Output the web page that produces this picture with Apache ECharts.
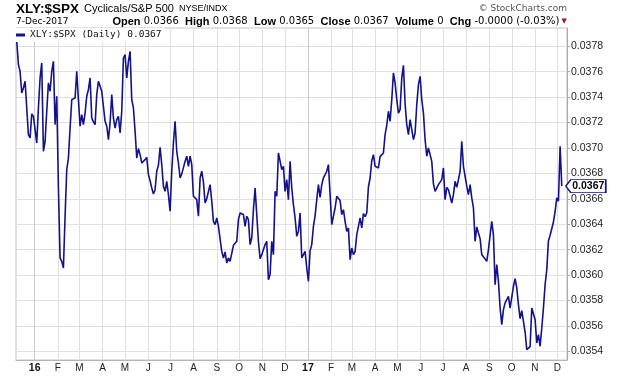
<!DOCTYPE html>
<html>
<head>
<meta charset="utf-8">
<title>XLY:$SPX</title>
<script src="https://cdn.jsdelivr.net/npm/echarts@6/dist/echarts.min.js"></script>
<style>
  html, body { margin: 0; padding: 0; background: #fff; }
  #chart { width: 620px; height: 376px; }
</style>
</head>
<body>
<div id="chart"></div>
<script>
// XLY:$SPX (Cyclicals / S&P 500), daily.
// Samples are evenly spaced between firstDate and lastDate.
const firstDate = '2015-12-08';
const lastDate = '2017-12-07';
const axisStart = '2015-12-07';
const axisEnd = '2017-12-14';

const monthLetters = ['J', 'F', 'M', 'A', 'M', 'J', 'J', 'A', 'S', 'O', 'N', 'D'];

// Dec 2015 - mid Apr 2016
const part1 = [
    0.037839, 0.037656, 0.037603, 0.037433, 0.037472, 0.037525, 0.037512, 0.037105, 0.037079, 0.037268,
    0.037249, 0.037144, 0.037039, 0.037315, 0.037551, 0.037669, 0.036974, 0.037053, 0.037289, 0.037512,
    0.037446, 0.037603, 0.037682, 0.037184, 0.037407, 0.036685, 0.036135, 0.036108, 0.036056, 0.036463,
    0.036830, 0.036921, 0.037157, 0.037380, 0.037380, 0.037394, 0.037603, 0.037380, 0.037171, 0.037262,
    0.037184, 0.037275, 0.037407, 0.037459, 0.037551, 0.037236, 0.037205, 0.037184, 0.037420, 0.037525,
    0.037525, 0.037446, 0.037328, 0.037210, 0.037171, 0.037066, 0.037197, 0.037420, 0.037236, 0.037157,
    0.037223, 0.037249, 0.037118, 0.037289, 0.037708, 0.037734
];
// mid Apr 2016 - Aug 2016
const part2 = [
    0.037551, 0.037682, 0.037761, 0.037380, 0.037315, 0.037131, 0.036921, 0.036995, 0.036948, 0.036882,
    0.036895, 0.036908, 0.036927, 0.036790, 0.036743, 0.036685, 0.036638, 0.036672, 0.036817, 0.036864,
    0.037005, 0.036869, 0.036698, 0.036659, 0.036738, 0.036633, 0.036502, 0.036817, 0.037039, 0.037210,
    0.036974, 0.036882, 0.036764, 0.036796, 0.036811, 0.036895, 0.036935, 0.036856, 0.036935, 0.036869,
    0.036620, 0.036612, 0.036594, 0.036463, 0.036764, 0.036817, 0.036733, 0.036567, 0.036601, 0.036607,
    0.036712, 0.036581, 0.036423, 0.036397, 0.036449, 0.036384, 0.036371, 0.036187, 0.036135, 0.036182,
    0.036095, 0.036135
];
// Sep 2016 - Jan 2017
const part3 = [
    0.036108, 0.036095, 0.036234, 0.036240, 0.036266, 0.036436, 0.036489, 0.036497, 0.036476, 0.036384,
    0.036463, 0.036436, 0.036240, 0.036292, 0.036515, 0.036685, 0.036476, 0.036266, 0.036129, 0.036161,
    0.036174, 0.036240, 0.036266, 0.035964, 0.036004, 0.036266, 0.036161, 0.036659, 0.036620, 0.036961,
    0.036961, 0.036830, 0.036856, 0.036659, 0.036751, 0.036594, 0.036895, 0.036685, 0.036554, 0.036449,
    0.036305, 0.036344, 0.036489, 0.036135, 0.036161, 0.036187, 0.036056, 0.035951, 0.036192, 0.036240,
    0.036384, 0.036468, 0.036594, 0.036712, 0.036612, 0.036712, 0.036764, 0.036790, 0.036817, 0.036869,
    0.036633, 0.036397, 0.036397, 0.036528, 0.036620
];
// Feb 2017 - Jun 2017
const part4 = [
    0.036633, 0.036586, 0.036476, 0.036515, 0.036423, 0.036344, 0.036371, 0.036122, 0.036213, 0.036161,
    0.036187, 0.036318, 0.036384, 0.036449, 0.036371, 0.036483, 0.036460, 0.036489, 0.036693, 0.036764,
    0.036900, 0.036948, 0.036856, 0.036869, 0.036843, 0.036932, 0.036921, 0.036961, 0.037105, 0.037178,
    0.037289, 0.037210, 0.037380, 0.037590, 0.037512, 0.037380, 0.037275, 0.037302, 0.037551, 0.037651,
    0.037346, 0.037184, 0.037105, 0.037223, 0.037210, 0.037066, 0.037118, 0.037341, 0.037498, 0.037564,
    0.037380, 0.037275, 0.037066, 0.036935, 0.037000, 0.036948, 0.036895, 0.036717, 0.036659, 0.036672,
    0.036712, 0.036722, 0.036751, 0.036843, 0.036594
];
// Jul 2017 - Dec 2017
const part5 = [
    0.036690, 0.036672, 0.036620, 0.036567, 0.036633, 0.036738, 0.036690, 0.036751, 0.036817, 0.037053,
    0.036856, 0.036843, 0.036698, 0.036633, 0.036712, 0.036607, 0.036528, 0.036266, 0.036379, 0.036331,
    0.036287, 0.036161, 0.036145, 0.036135, 0.036108, 0.036200, 0.036313, 0.036423, 0.036318, 0.035925,
    0.036082, 0.035951, 0.035741, 0.035610, 0.035728, 0.035781, 0.035794, 0.035833, 0.035741, 0.035741,
    0.035912, 0.035972, 0.035899, 0.035767, 0.035657, 0.035720, 0.035636, 0.035552, 0.035413, 0.035419,
    0.035437, 0.035741, 0.035754, 0.035649, 0.035466, 0.035531, 0.035440, 0.035584, 0.035741, 0.035925,
    0.036043, 0.036271, 0.036313, 0.036365, 0.036418, 0.036502, 0.036607, 0.036581, 0.037013, 0.036700
];

const yMin = 0.035332;
const yMax = 0.037944;

const lineColor = '#12128c';
const baseFont = 'Liberation Sans, Arial, sans-serif';
const legendName = 'XLY:$SPX (Daily) 0.0367';

const values = part1.concat(part2, part3, part4, part5);
const t0 = new Date(firstDate + 'T00:00:00').getTime();
const t1 = new Date(lastDate + 'T00:00:00').getTime();
const step = (t1 - t0) / (values.length - 1);
const seriesData = values.map((v, i) => [t0 + i * step, v]);
const lastPoint = seriesData[seriesData.length - 1];
const DAY = 86400000;

const chart = echarts.init(document.getElementById('chart'));

const option = {
    animation: false,
    backgroundColor: '#fff',
    textStyle: { fontFamily: baseFont },
    title: [
        {
            left: 16, top: 0, padding: 0,
            text: '{a|XLY:$SPX} {b|Cyclicals/S&P 500} {c|NYSE/INDX}',
            textStyle: {
                fontWeight: 'normal',
                rich: {
                    a: { fontFamily: baseFont, fontWeight: 'bold', fontSize: 13.5, color: '#000', lineHeight: 15 },
                    b: { fontFamily: baseFont, fontWeight: 'normal', fontSize: 11, color: '#000', lineHeight: 15 },
                    c: { fontFamily: baseFont, fontWeight: 'normal', fontSize: 9, color: '#000', lineHeight: 15 }
                }
            }
        },
        {
            left: 16, top: 17, padding: 0,
            text: '7-Dec-2017',
            textStyle: { fontFamily: 'DejaVu Sans', fontSize: 9, fontWeight: 'normal', color: '#000', lineHeight: 10 }
        },
        {
            right: 53, top: 15, padding: 0,
            text: '{b|Open}{n| 0.0366  }{b|High}{n| 0.0368  }{b|Low}{n| 0.0365  }{b|Close}{n| 0.0367  }'
                + '{b|Volume}{n| 0  }{b|Chg}{n| -0.0000 (-0.03%)}{t| ▼}',
            textStyle: {
                fontWeight: 'normal',
                rich: {
                    b: { fontFamily: baseFont, fontWeight: 'bold', fontSize: 11, color: '#000', lineHeight: 13 },
                    n: { fontFamily: 'DejaVu Sans', fontWeight: 'normal', fontSize: 10, color: '#000', lineHeight: 13 },
                    t: { fontFamily: 'DejaVu Sans', fontWeight: 'normal', fontSize: 7, color: '#8b1a30', lineHeight: 13 }
                }
            }
        },
        {
            right: 53, top: 3, padding: 0,
            text: '© StockCharts.com',
            textStyle: { fontFamily: 'DejaVu Sans', fontSize: 9, fontWeight: 'normal', color: '#555', lineHeight: 11 }
        }
    ],
    legend: {
        left: 14, top: 28,
        padding: [2, 3, 2, 2],
        itemWidth: 9, itemHeight: 3, itemGap: 0,
        icon: 'rect',
        selectedMode: false,
        backgroundColor: '#fff',
        textStyle: { fontFamily: 'DejaVu Sans Mono', fontSize: 9.5, color: '#111' },
        data: [legendName]
    },
    grid: {
        left: 16, right: 53, top: 28, bottom: 16,
        show: true, borderColor: '#c4c4c4', borderWidth: 1
    },
    xAxis: {
        type: 'time',
        min: axisStart,
        max: axisEnd,
        splitNumber: 24,
        minInterval: 28 * DAY,
        maxInterval: 31 * DAY,
        axisLine: { show: true, lineStyle: { color: '#b4b4b4' } },
        axisTick: { show: false },
        axisLabel: {
            margin: 3,
            fontSize: 10,
            color: '#222',
            showMinLabel: false,
            showMaxLabel: false,
            hideOverlap: false,
            formatter: (value) => {
                const d = new Date(value);
                const m = d.getMonth();
                if (m === 0) return '{yr|' + String(d.getFullYear()).slice(2) + '}';
                return monthLetters[m];
            },
            rich: { yr: { fontWeight: 'bold', fontSize: 10.5, color: '#111' } }
        },
        splitLine: { show: true, lineStyle: { color: '#e0e0e0', width: 1 } }
    },
    yAxis: {
        type: 'value',
        position: 'right',
        min: yMin,
        max: yMax,
        splitNumber: 13,
        axisLine: { show: true, lineStyle: { color: '#a8a8a8' } },
        axisTick: { show: true, length: 3, inside: false, lineStyle: { color: '#a8a8a8' } },
        axisLabel: {
            margin: 4,
            fontSize: 10.5,
            color: '#222',
            showMinLabel: false,
            showMaxLabel: false,
            formatter: (v) => v.toFixed(4)
        },
        splitLine: { show: true, lineStyle: { color: '#e0e0e0', width: 1 } }
    },
    series: [{
        name: legendName,
        type: 'line',
        color: lineColor,
        data: seriesData,
        showSymbol: false,
        symbol: 'none',
        lineStyle: { color: lineColor, width: 1.6 },
        markLine: {
            silent: true,
            symbol: 'none',
            z: 1,
            label: { show: false },
            lineStyle: { color: '#cbcbcb', width: 1, type: 'solid' },
            data: [{ xAxis: '2016-01-01' }, { xAxis: '2017-01-01' }]
        },
        markPoint: {
            silent: true,
            symbol: 'path://M0,6 L5,0 L40,0 L40,12 L5,12 Z',
            symbolSize: [40, 13],
            symbolOffset: [24, 0],
            itemStyle: { color: '#fff', borderColor: lineColor, borderWidth: 1 },
            label: {
                show: true,
                position: 'inside',
                offset: [2.5, 0],
                color: '#000',
                fontWeight: 'bold',
                fontSize: 10.5,
                fontFamily: baseFont,
                formatter: (p) => p.value.toFixed(4)
            },
            data: [{ coord: lastPoint, value: lastPoint[1] }]
        }
    }]
};

chart.setOption(option);
window.addEventListener('resize', () => chart.resize());
</script>
</body>
</html>
